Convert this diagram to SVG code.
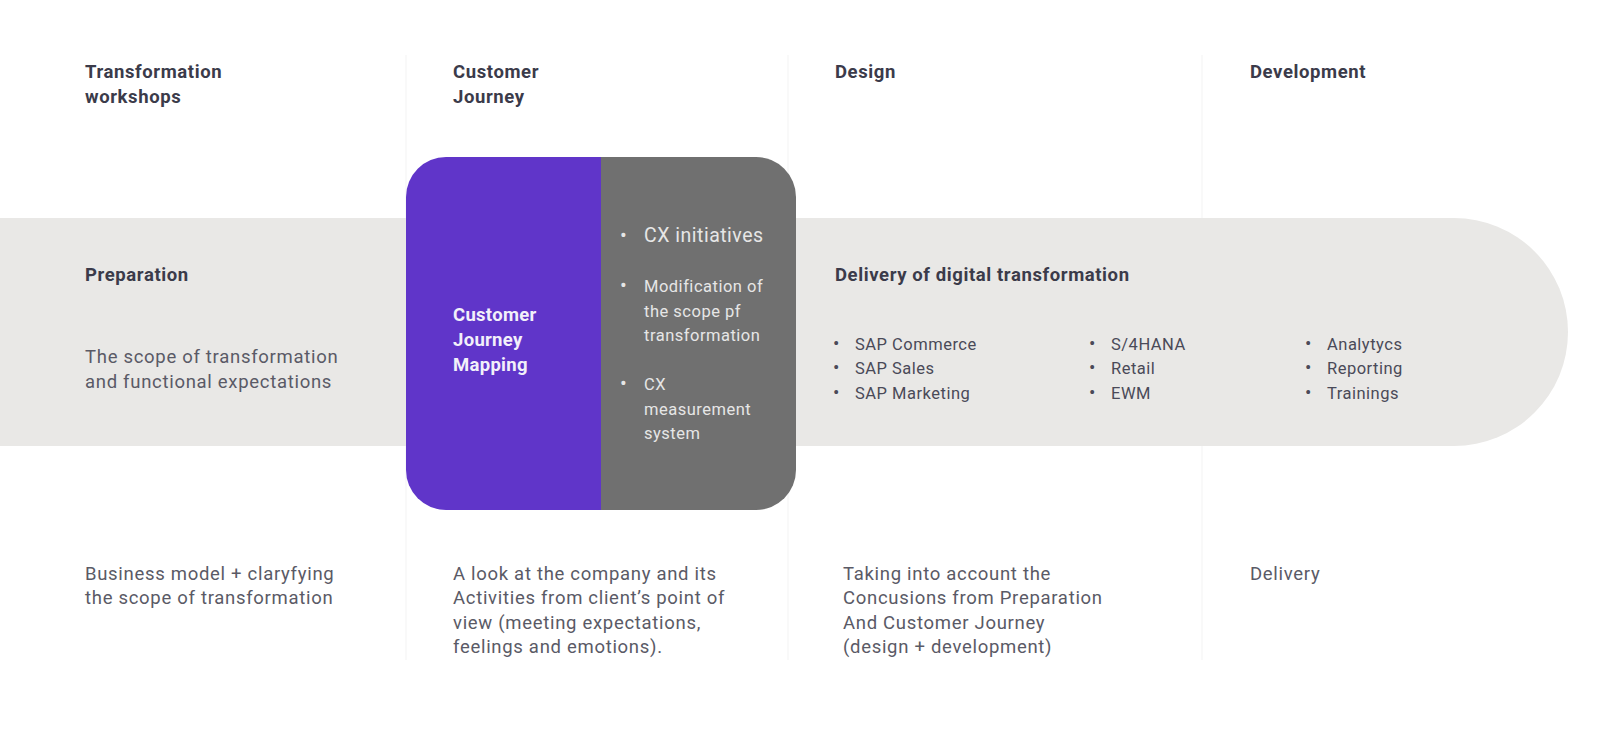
<svg xmlns="http://www.w3.org/2000/svg" width="1600" height="732" viewBox="0 0 1600 732">
<style>
.h{font-family:Roboto,"Liberation Sans",sans-serif;font-weight:bold;font-size:18.5px;letter-spacing:0.6px;fill:#3b3b4a}
.b{font-family:Roboto,"Liberation Sans",sans-serif;font-size:18.5px;letter-spacing:0.7px;fill:#5a5a66}
.s{font-family:Roboto,"Liberation Sans",sans-serif;font-size:16.5px;letter-spacing:0.5px;fill:#4a4a58}
.w{font-family:Roboto,"Liberation Sans",sans-serif;font-size:16.5px;letter-spacing:0.5px;fill:#e6e6e6}
.wb{font-family:Roboto,"Liberation Sans",sans-serif;font-weight:bold;font-size:18.5px;letter-spacing:0.3px;fill:#f2f0fa}
.col{stroke:#f3f3f3;stroke-width:1}
</style>
<rect width="1600" height="732" fill="#fff"/>
<g id="columns">
<line class="col" x1="406" y1="55" x2="406" y2="660"/>
<line class="col" x1="788" y1="55" x2="788" y2="660"/>
<line class="col" x1="1202" y1="55" x2="1202" y2="660"/>
</g>
<g id="band"><path d="M0 218 H1454 A114 114 0 0 1 1454 446 H0 Z" fill="#e9e8e6"/></g>
<g id="headers">
<text class="h" x="85" y="78">Transformation</text><text class="h" x="85" y="103">workshops</text>
<text class="h" x="453" y="78">Customer</text><text class="h" x="453" y="103">Journey</text>
<text class="h" x="835" y="78">Design</text>
<text class="h" x="1250" y="78">Development</text>
</g>
<g id="preparation">
<text class="h" x="85" y="281">Preparation</text>
<text class="b" x="85" y="363">The scope of transformation</text>
<text class="b" x="85" y="388">and functional expectations</text>
</g>
<g id="cjm">
<path d="M446 157 H601 V510 H446 A40 40 0 0 1 406 470 V197 A40 40 0 0 1 446 157 Z" fill="#6035c9"/>
<path d="M601 157 H756 A40 40 0 0 1 796 197 V470 A40 40 0 0 1 756 510 H601 Z" fill="#707070"/>
<text class="wb" x="453" y="321">Customer</text>
<text class="wb" x="453" y="346">Journey</text>
<text class="wb" x="453" y="371">Mapping</text>
<text class="w" x="620" y="242" style="font-size:20px">•</text><text class="w" x="644" y="242" style="font-size:19.5px">CX initiatives</text>
<text class="w" x="620" y="292" style="font-size:20px">•</text><text class="w" x="644" y="292">Modification of</text>
<text class="w" x="644" y="317">the scope pf</text>
<text class="w" x="644" y="341">transformation</text>
<text class="w" x="620" y="390" style="font-size:20px">•</text><text class="w" x="644" y="390">CX</text>
<text class="w" x="644" y="415">measurement</text>
<text class="w" x="644" y="439">system</text>
</g>
<g id="delivery">
<text class="h" x="835" y="281">Delivery of digital transformation</text>
<text class="s" x="833" y="350" style="font-size:19px">•</text><text class="s" x="855" y="350">SAP Commerce</text>
<text class="s" x="833" y="374" style="font-size:19px">•</text><text class="s" x="855" y="374">SAP Sales</text>
<text class="s" x="833" y="399" style="font-size:19px">•</text><text class="s" x="855" y="399">SAP Marketing</text>
<text class="s" x="1089" y="350" style="font-size:19px">•</text><text class="s" x="1111" y="350">S/4HANA</text>
<text class="s" x="1089" y="374" style="font-size:19px">•</text><text class="s" x="1111" y="374">Retail</text>
<text class="s" x="1089" y="399" style="font-size:19px">•</text><text class="s" x="1111" y="399">EWM</text>
<text class="s" x="1305" y="350" style="font-size:19px">•</text><text class="s" x="1327" y="350">Analytycs</text>
<text class="s" x="1305" y="374" style="font-size:19px">•</text><text class="s" x="1327" y="374">Reporting</text>
<text class="s" x="1305" y="399" style="font-size:19px">•</text><text class="s" x="1327" y="399">Trainings</text>
</g>
<g id="bottom">
<text class="b" x="85" y="580">Business model + claryfying</text>
<text class="b" x="85" y="604">the scope of transformation</text>
<text class="b" x="453" y="580">A look at the company and its</text>
<text class="b" x="453" y="604">Activities from client’s point of</text>
<text class="b" x="453" y="629">view (meeting expectations,</text>
<text class="b" x="453" y="653">feelings and emotions).</text>
<text class="b" x="843" y="580">Taking into account the</text>
<text class="b" x="843" y="604">Concusions from Preparation</text>
<text class="b" x="843" y="629">And Customer Journey</text>
<text class="b" x="843" y="653">(design + development)</text>
<text class="b" x="1250" y="580">Delivery</text>
</g>
</svg>
